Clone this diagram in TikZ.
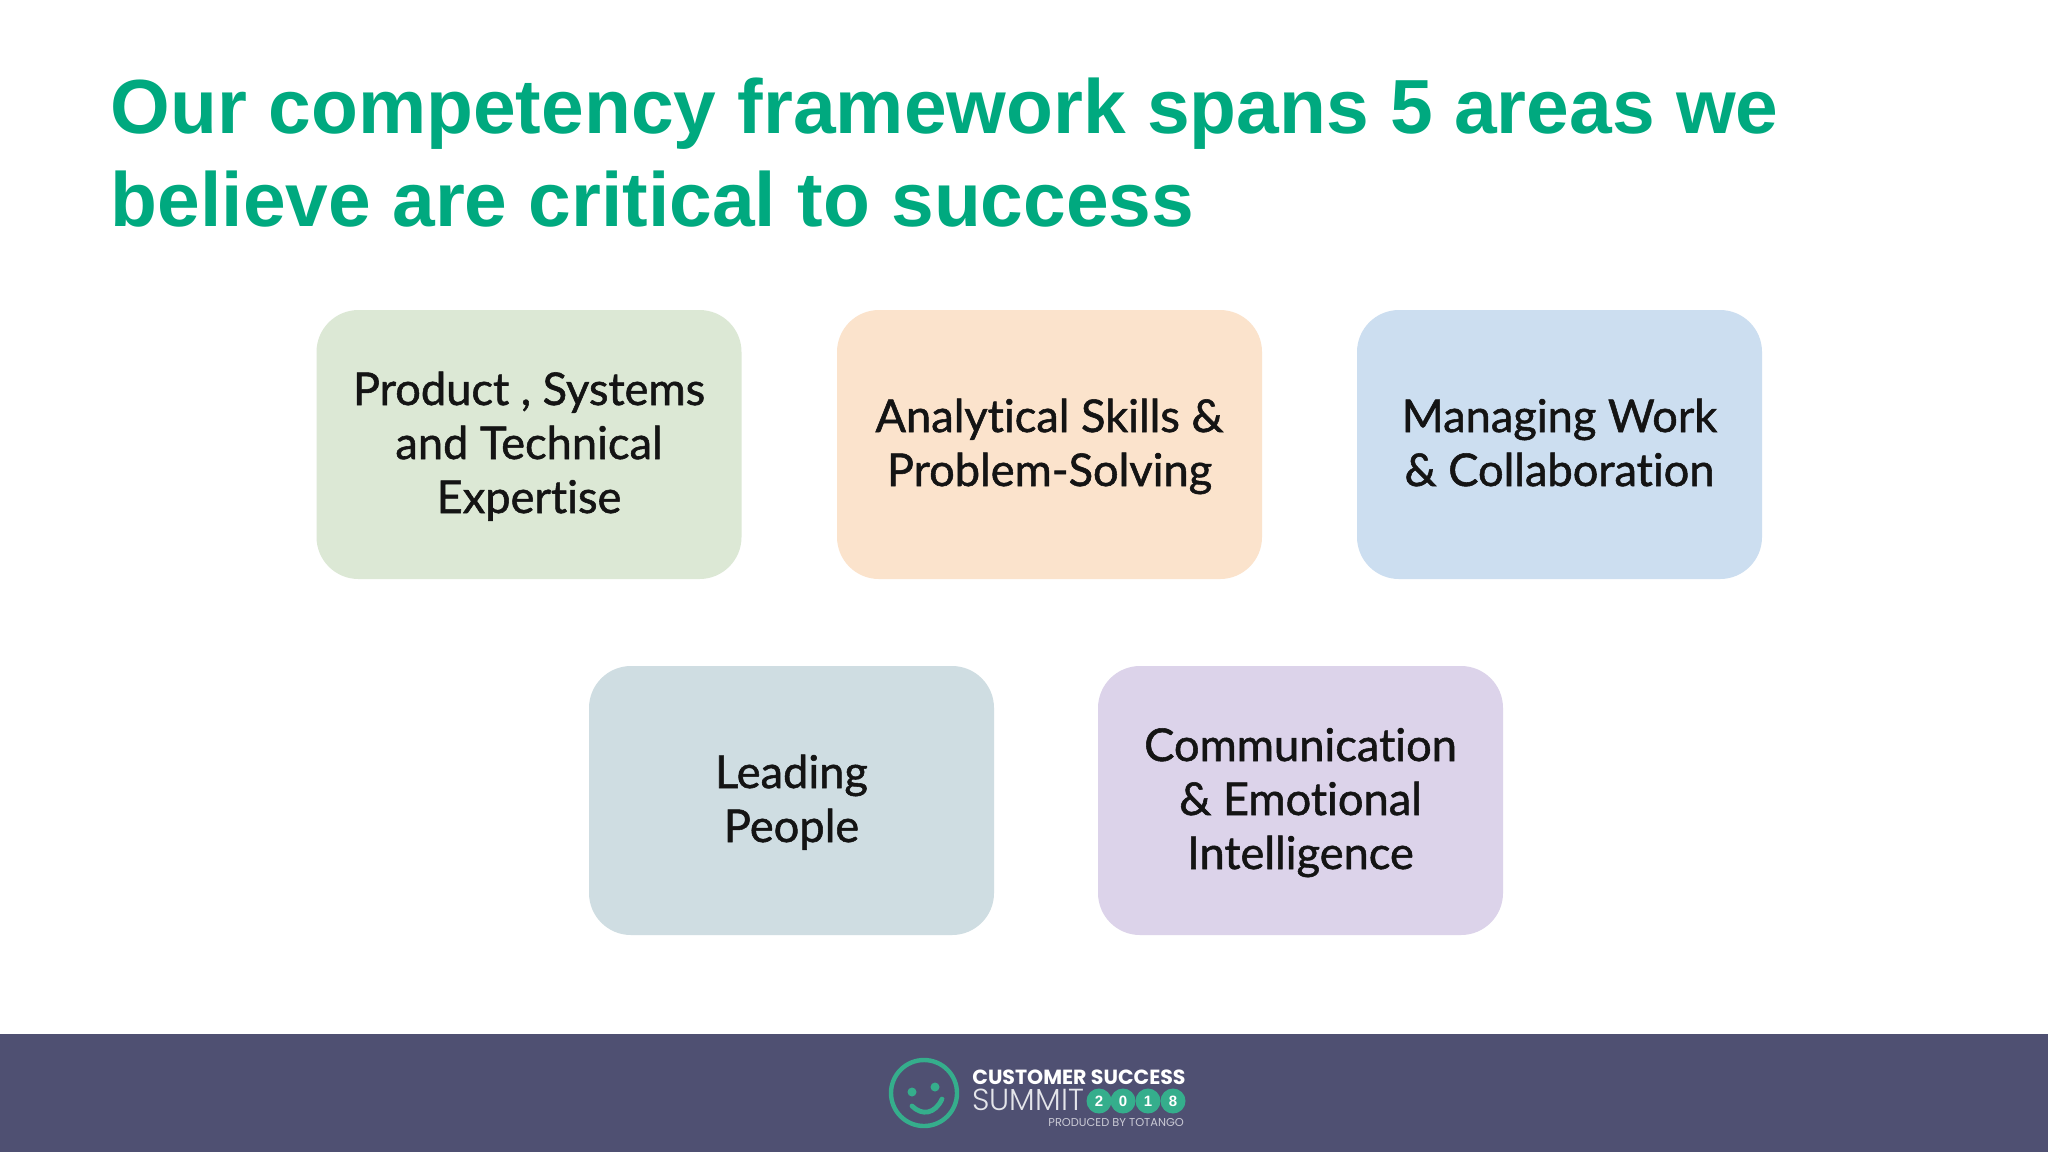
\documentclass[tikz,border=0pt]{standalone}
\usepackage{fontspec}
\setmainfont{Liberation Sans}
\newfontfamily\boxfont[Ligatures=NoCommon, FakeBold=1.2]{Lato}
\newfontfamily\logofont{Poppins}
\newfontfamily\logolight{Poppins Light}
\newcommand{\firstline}{\rule{0pt}{20.5pt}}
\definecolor{titlegreen}{HTML}{00A97F}
\definecolor{footerblue}{HTML}{4F5072}
\definecolor{logogreen}{HTML}{35AE8C}
\definecolor{boxgreen}{HTML}{DCE8D5}
\definecolor{boxorange}{HTML}{FBE3CC}
\definecolor{boxblue}{HTML}{CCDEF0}
\definecolor{boxgrey}{HTML}{CFDDE2}
\definecolor{boxpurple}{HTML}{DCD3EA}
\tikzset{
  area/.style={rounded corners=21pt, align=center, inner sep=0pt, text=black!92,
    font=\boxfont\fontsize{22.6}{27}\selectfont,
    execute at end node={\rule[-6pt]{0pt}{6pt}}},
  year/.style={circle, fill=logogreen, text=white, minimum size=12.5pt, inner sep=0pt,
    font=\bfseries\fontsize{7.5}{8}\selectfont},
  logotext/.style={anchor=west, inner sep=0pt, text=white},
}
\begin{document}
\begin{tikzpicture}[x=0.5pt, y=-0.5pt]
  \useasboundingbox (0,0) rectangle (2048,1152);
  \fill [white] (0,0) rectangle (2048,1152);
  \fill [footerblue] (0,1034) rectangle (2048,1152);
  \node [anchor=north west, inner sep=0pt, align=left, text=titlegreen,
    font=\bfseries\fontsize{38.37}{46.5}\selectfont] (title) at (110.5,77)
    {Our competency framework spans 5 areas we\\believe are critical to success};
  \node [area, fill=boxgreen, minimum width=212.5pt, minimum height=134.5pt] (product) at (529,444.5)
    {\firstline Product , Systems\\and Technical\\Expertise};
  \node [area, fill=boxorange, minimum width=212.5pt, minimum height=134.5pt] (analytical) at (1049.5,444.5)
    {\firstline Analytical Skills \&\\Problem-Solving};
  \node [area, fill=boxblue, minimum width=202.5pt, minimum height=134.5pt] (managing) at (1559.5,444.5)
    {\firstline Managing Work\\\& Collaboration};
  \node [area, fill=boxgrey, minimum width=202.5pt, minimum height=134.5pt] (leading) at (791.5,800.5)
    {\firstline Leading\\People};
  \node [area, fill=boxpurple, minimum width=202.5pt, minimum height=134.5pt] (communication) at (1300.5,800.5)
    {\firstline Communication\\\& Emotional\\Intelligence};
  % logo
  \draw [logogreen, line width=2.2pt] (924,1093) circle (33);
  \fill [logogreen] (912,1092) circle (4.5);
  \fill [logogreen] (935,1087) circle (4.5);
  \draw [logogreen, line width=2.4pt, line cap=round] (912,1106)
    .. controls (922,1116) and (935,1114) .. (942,1099);
  \node [logotext, font=\logofont\bfseries\fontsize{10.25}{12}\selectfont] (customer) at (972,1077) {CUSTOMER SUCCESS};
  \node [logotext, font=\logolight\fontsize{15.2}{16}\selectfont, text=white!85!footerblue] (summit) at (972,1100) {SUMMIT};
  \node [year] (y2) at (1099,1101) {2};
  \node [year] (y0) at (1123,1101) {0};
  \node [year] (y1) at (1148,1101) {1};
  \node [year] (y8) at (1173,1101) {8};
  \node [logotext, font=\logofont\fontsize{5.7}{6}\selectfont, text=white!70!footerblue] (produced) at (1048,1122) {PRODUCED BY TOTANGO};
\end{tikzpicture}
\end{document}
